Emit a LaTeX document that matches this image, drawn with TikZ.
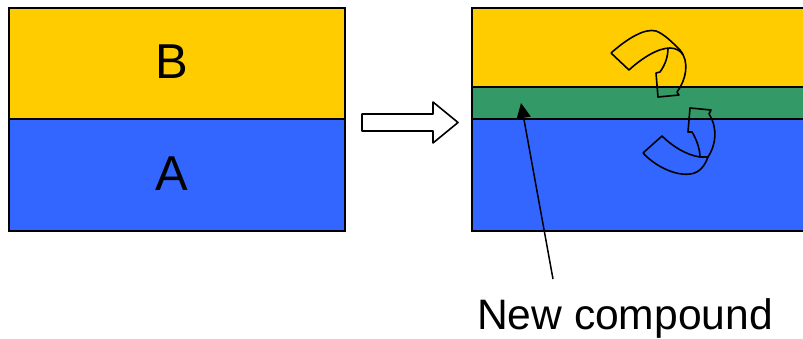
\documentclass[tikz,border=0pt]{standalone}
\usepackage{fontspec}
\setmainfont{Liberation Sans}
\usetikzlibrary{arrows.meta}
\definecolor{layerB}{HTML}{FFCC00}
\definecolor{layerA}{HTML}{3366FF}
\definecolor{layerC}{HTML}{339966}
\tikzset{
  edge/.style={draw=black, line width=2pt},
  outl/.style={draw=black, line width=1.6pt, line join=round},
  big/.style={font=\fontsize{49}{52}\selectfont, inner sep=0pt},
  lbl/.style={font=\fontsize{42.6}{46}\selectfont, inner sep=0pt},
}
\begin{document}
\begin{tikzpicture}[x=1pt,y=-1pt]
\useasboundingbox (0,0) rectangle (803,338);
% left stack
\fill[layerB] (9,8) rectangle (345,119);
\fill[layerA] (9,119) rectangle (345,231);
\draw[edge] (9,8) rectangle (345,231);
\draw[edge] (9,119) -- (345,119);
\node[big] (B) at (172,62) {B};
\node[big] (A) at (172,174) {A};
% block arrow
\draw[outl, fill=white] (362,114) -- (433,114) -- (433,102) -- (458,122.5) -- (433,143) -- (433,131) -- (362,131) -- cycle;
% right stack
\fill[layerB] (472,8) rectangle (806,87);
\fill[layerC] (472,87) rectangle (806,119);
\fill[layerA] (472,119) rectangle (806,231);
\draw[edge] (472,8) rectangle (806,231);
\draw[edge] (472,87) -- (806,87);
\draw[edge] (472,119) -- (806,119);
% top curved arrow
\draw[outl] (611,53) .. controls (628,38) and (645,28) .. (656,31) .. controls (664,34) and (672,42) .. (680,50) .. controls (690,62) and (686,80) .. (677,92) -- (679,95) -- (658,97) -- (656,73) -- (660,72) .. controls (665,65) and (668,57) .. (668,48);
\draw[outl] (611,53) -- (629,70) .. controls (642,58) and (658,48) .. (670,48) .. controls (676,48) and (681,51) .. (683,55);
% bottom curved arrow
\draw[outl] (643,153) -- (662,136) .. controls (672,146) and (686,155) .. (700,157) -- (708,157);
\draw[outl] (643,153) .. controls (655,166) and (675,176) .. (690,174) .. controls (700,173) and (705,165) .. (708,157) .. controls (716,145) and (718,128) .. (709,114) -- (711,110) -- (690,108) -- (688,132) -- (692,132) .. controls (697,140) and (700,150) .. (700,157);
% label
\node[lbl, anchor=base] (label) at (625,329) {New compound};
\coordinate (tail) at (553,279);
\coordinate (tip) at (521,103);
\draw[line width=1.5pt, -{Triangle[length=15pt,width=14pt]}] (tail) -- (tip);
\end{tikzpicture}
\end{document}
